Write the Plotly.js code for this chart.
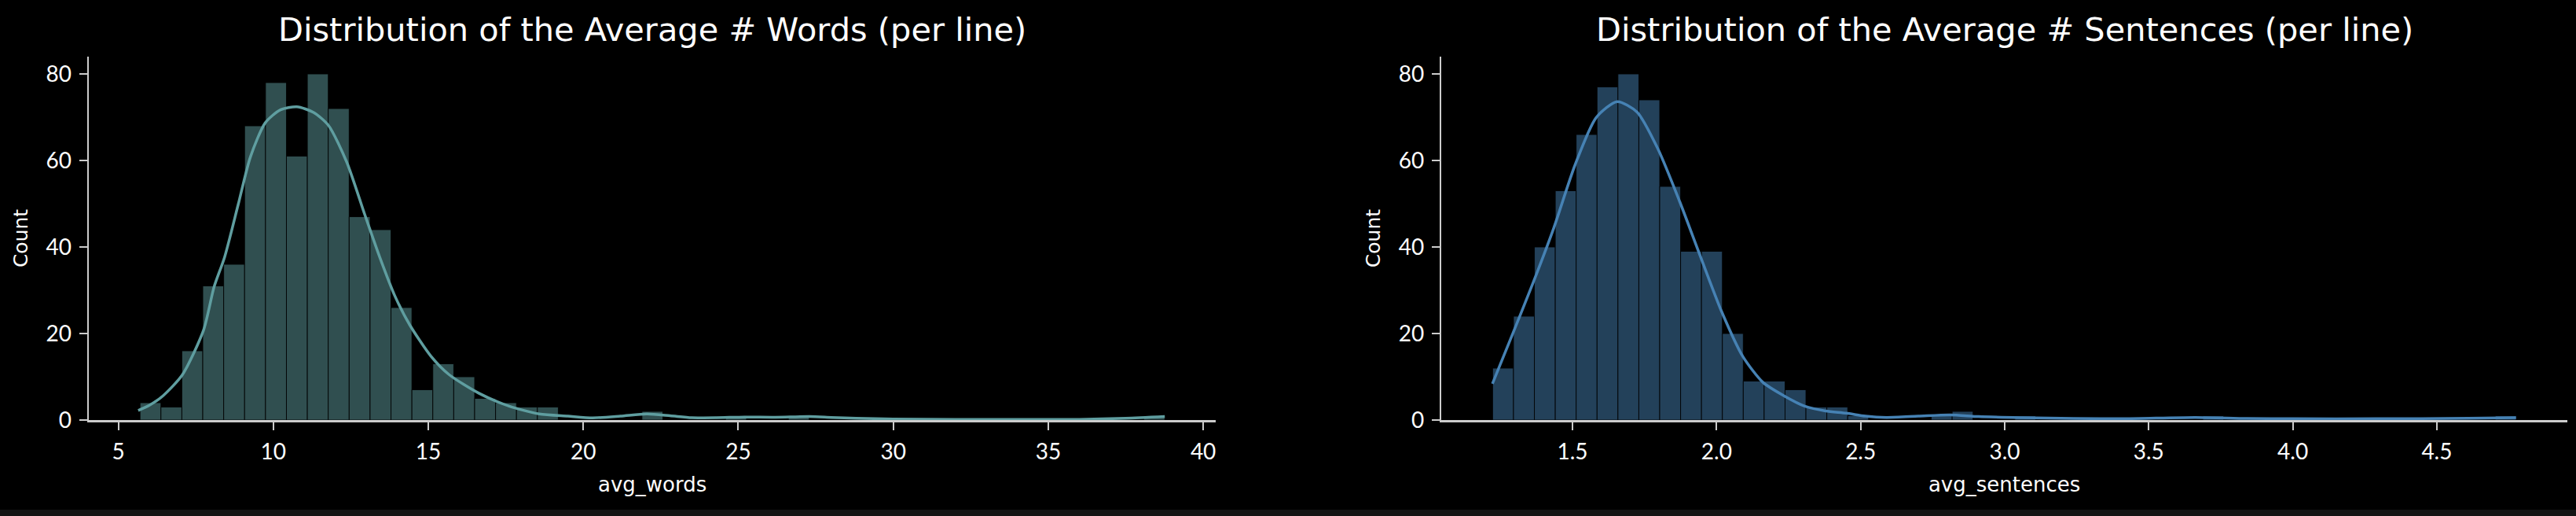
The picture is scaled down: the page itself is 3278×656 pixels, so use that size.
<!DOCTYPE html>
<html>
<head>
<meta charset="utf-8">
<script src="https://cdn.plot.ly/plotly-3.0.1.min.js"></script>
<style>
  html, body { margin: 0; padding: 0; background: #141414; }
  #chart { width: 3278px; height: 648px; background: #000; }
</style>
</head>
<body>
<div id="chart"></div>
<script>
// ---- avg_words: 49 equal-width bins between min and max ----
const WORD_BIN_START = 5.70;
const WORD_BIN_WIDTH = 0.6747;
const WORD_COUNTS = [
    4, 3, 16, 31, 36, 68, 78, 61, 80, 72,
    47, 44, 26, 7, 13, 10, 5, 4, 3, 3,
    0, 0, 0, 0, 2, 0, 0, 0, 1, 0,
    0, 1, 0, 0, 0, 0, 0, 0, 0, 0,
    0, 0, 0, 0, 0, 0, 0, 0, 1
];
// KDE curve (count scale)
const WORD_KDE_X = [5.64, 6.0, 6.44, 7.07, 7.75, 8.09, 8.43, 8.87, 9.26, 9.74,
    10.23, 10.76, 11.30, 11.78, 12.37, 12.95, 13.43, 13.92, 14.40, 15.08,
    15.67, 16.63, 17.61, 18.58, 19.5, 20.3, 21.2, 22.05, 22.8, 23.5,
    24.3, 25.2, 26.2, 27.3, 28.0, 28.8, 30, 32, 34, 36, 37.5, 38.76];
const WORD_KDE_Y = [2.2, 3.4, 5.6, 10.5, 20.8, 30.8, 37.7, 49.9, 60.8, 68.7,
    71.7, 72.4, 71.1, 68.1, 59.6, 47.5, 37.7, 28.7, 22.0, 14.8,
    10.5, 6.2, 3.2, 1.4, 0.9, 0.5, 0.9, 1.4, 1.0, 0.55,
    0.55, 0.7, 0.65, 0.8, 0.6, 0.4, 0.25, 0.15, 0.12, 0.15, 0.4, 0.8];

// ---- avg_sentences: 49 equal-width bins ----
const SENT_BIN_START = 1.2227;
const SENT_BIN_WIDTH = 0.0725;
const SENT_COUNTS = [
    12, 24, 40, 53, 66, 77, 80, 74, 54, 39,
    39, 20, 9, 9, 7, 3, 3, 1, 0, 0,
    0, 1, 2, 0, 0, 1, 0, 0, 0, 0,
    0, 0, 0, 0, 1, 0, 0, 0, 0, 0,
    0, 0, 0, 0, 0, 0, 0, 0, 1
];
const SENT_KDE_X = [1.222, 1.294, 1.363, 1.435, 1.509, 1.582, 1.655, 1.724, 1.797, 1.872,
    1.944, 2.018, 2.091, 2.161, 2.234, 2.306, 2.379, 2.45, 2.517, 2.59,
    2.70, 2.81, 2.91, 3.06, 3.24, 3.42, 3.66, 3.84, 4.0, 4.29, 4.61, 4.775];
const SENT_KDE_Y = [8.4, 20.2, 31.7, 44.4, 59.0, 69.9, 73.6, 71.2, 62.6, 50.5,
    37.8, 25.0, 14.7, 8.7, 5.6, 3.2, 2.1, 1.6, 0.9, 0.6,
    0.9, 1.2, 0.8, 0.55, 0.35, 0.3, 0.6, 0.35, 0.3, 0.3, 0.4, 0.55];

const WORD_TICKS  = [5, 10, 15, 20, 25, 30, 35, 40];
const SENT_TICKS  = [1.5, 2.0, 2.5, 3.0, 3.5, 4.0, 4.5];
const COUNT_TICKS = [0, 20, 40, 60, 80];

// Futura is not available: Lato for the digits, DejaVu Sans (wider) for words
const TICK_FONT = 'Lato, "Open Sans", sans-serif';
const TEXT_FONT = '"DejaVu Sans", Lato, sans-serif';
const AXIS_GREY = '#cccccc';

function binCenters(start, width, n) {
    const out = [];
    for (let i = 0; i < n; i++) out.push(start + (i + 0.5) * width);
    return out;
}

function histTrace(counts, start, width, rgb, xa, ya) {
    return {
        type: 'bar',
        x: binCenters(start, width, counts.length),
        y: counts,
        width: width,
        marker: { color: 'rgba(' + rgb + ',0.5)', line: { color: 'rgba(0,0,0,0.85)', width: 1 } },
        xaxis: xa, yaxis: ya,
        hoverinfo: 'skip'
    };
}

function kdeTrace(xs, ys, color, xa, ya) {
    return {
        type: 'scatter', mode: 'lines',
        x: xs, y: ys,
        line: { color: color, width: 3.5, shape: 'spline', smoothing: 0.7 },
        xaxis: xa, yaxis: ya,
        hoverinfo: 'skip'
    };
}

function axisStyle(extra) {
    return Object.assign({
        showline: true, linecolor: AXIS_GREY, linewidth: 2.5,
        ticks: 'outside', ticklen: 10, tickwidth: 2, tickcolor: AXIS_GREY,
        showgrid: false, zeroline: false,
        tickfont: { family: TICK_FONT, size: 28, color: '#ffffff' },
        ticklabelstandoff: 4
    }, extra);
}

function xTitle(text) {
    return { text: text, font: { family: TEXT_FONT, size: 26, color: '#ffffff' }, standoff: 18 };
}
function yTitle(text) {
    return { text: text, font: { family: TEXT_FONT, size: 25, color: '#ffffff' }, standoff: 16 };
}

function panelTitle(text, xref) {
    return {
        text: text,
        xref: xref, yref: 'paper', x: 0.5, y: 1.074,
        xanchor: 'center', yanchor: 'middle', showarrow: false,
        font: { family: TEXT_FONT, size: 41.5, color: '#ffffff' }
    };
}

const traces = [
    histTrace(WORD_COUNTS, WORD_BIN_START, WORD_BIN_WIDTH, '95,158,160', 'x', 'y'),
    kdeTrace(WORD_KDE_X, WORD_KDE_Y, '#5f9ea0', 'x', 'y'),
    histTrace(SENT_COUNTS, SENT_BIN_START, SENT_BIN_WIDTH, '70,130,180', 'x2', 'y2'),
    kdeTrace(SENT_KDE_X, SENT_KDE_Y, '#4682b4', 'x2', 'y2')
];

const layout = {
    width: 3278, height: 648,
    margin: { l: 112.5, r: 11, t: 72.3, b: 113.7 },
    paper_bgcolor: '#000000', plot_bgcolor: '#000000',
    showlegend: false,
    font: { family: TEXT_FONT, color: '#ffffff' },
    xaxis: axisStyle({
        domain: [0, 0.45475], anchor: 'y',
        range: [4.047, 40.41], tickvals: WORD_TICKS,
        title: xTitle('avg_words')
    }),
    yaxis: axisStyle({
        domain: [0, 1], anchor: 'x',
        range: [0, 84], tickvals: COUNT_TICKS,
        title: yTitle('Count')
    }),
    xaxis2: axisStyle({
        domain: [0.54573, 1], anchor: 'y2',
        range: [1.045, 4.953], tickvals: SENT_TICKS, tickformat: '.1f',
        title: xTitle('avg_sentences')
    }),
    yaxis2: axisStyle({
        domain: [0, 1], anchor: 'x2',
        range: [0, 84], tickvals: COUNT_TICKS,
        title: yTitle('Count')
    }),
    annotations: [
        panelTitle('Distribution of the Average # Words (per line)', 'x domain'),
        panelTitle('Distribution of the Average # Sentences (per line)', 'x2 domain')
    ]
};

Plotly.newPlot('chart', traces, layout, { staticPlot: true, displayModeBar: false });
</script>
</body>
</html>
